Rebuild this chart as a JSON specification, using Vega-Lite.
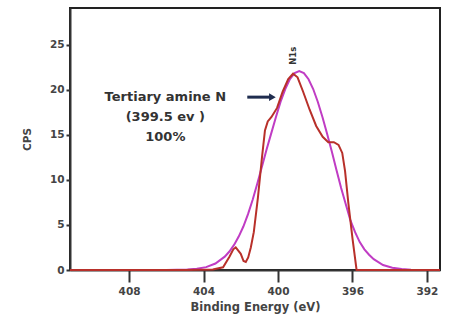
{
  "$schema": "https://vega.github.io/schema/vega-lite/v6.json",
  "width": 370,
  "height": 262,
  "autosize": {"type": "none"},
  "padding": {"left": 70, "top": 8, "right": 9, "bottom": 59},
  "background": "white",
  "config": {
    "view": {"stroke": "#222222", "strokeWidth": 2},
    "font": "DejaVu Sans",
    "axis": {"grid": false, "domainColor": "#333333", "domainWidth": 2, "tickColor": "#333333", "tickWidth": 2, "labelColor": "#444444", "labelFont": "DejaVu Sans", "labelFontWeight": "bold", "titleFont": "DejaVu Sans", "titleColor": "#444444", "titleFontWeight": "bold"}
  },
  "datasets": {
    "fit": [
      {"be": 411.17, "cps": 0}, {"be": 406.0, "cps": 0}, {"be": 404.86, "cps": 0.05}, {"be": 404.36, "cps": 0.13},
      {"be": 403.86, "cps": 0.32}, {"be": 403.36, "cps": 0.72}, {"be": 402.86, "cps": 1.48}, {"be": 402.61, "cps": 2.05},
      {"be": 402.36, "cps": 2.79}, {"be": 402.11, "cps": 3.71}, {"be": 401.86, "cps": 4.83}, {"be": 401.61, "cps": 6.2},
      {"be": 401.36, "cps": 7.8}, {"be": 401.11, "cps": 9.6}, {"be": 400.86, "cps": 11.5}, {"be": 400.61, "cps": 13.4},
      {"be": 400.36, "cps": 15.2}, {"be": 400.11, "cps": 17.0}, {"be": 399.86, "cps": 18.7}, {"be": 399.61, "cps": 20.1},
      {"be": 399.36, "cps": 21.2}, {"be": 399.11, "cps": 21.87}, {"be": 398.86, "cps": 22.1}, {"be": 398.61, "cps": 21.87},
      {"be": 398.36, "cps": 21.19}, {"be": 398.11, "cps": 20.1}, {"be": 397.86, "cps": 18.66}, {"be": 397.61, "cps": 16.97},
      {"be": 397.36, "cps": 15.11}, {"be": 397.11, "cps": 13.17}, {"be": 396.86, "cps": 11.1}, {"be": 396.61, "cps": 9.1},
      {"be": 396.36, "cps": 7.3}, {"be": 396.11, "cps": 5.5}, {"be": 395.86, "cps": 4.2}, {"be": 395.61, "cps": 3.1},
      {"be": 395.36, "cps": 2.3}, {"be": 395.11, "cps": 1.7}, {"be": 394.86, "cps": 1.2}, {"be": 394.36, "cps": 0.55},
      {"be": 393.86, "cps": 0.25}, {"be": 393.36, "cps": 0.1}, {"be": 392.86, "cps": 0.03}, {"be": 392.0, "cps": 0}, {"be": 391.3, "cps": 0}
    ],
    "raw": [
      {"be": 411.17, "cps": 0}, {"be": 405.0, "cps": 0}, {"be": 403.5, "cps": 0.05}, {"be": 402.95, "cps": 0.3},
      {"be": 402.6, "cps": 1.5}, {"be": 402.4, "cps": 2.3}, {"be": 402.27, "cps": 2.5}, {"be": 402.0, "cps": 1.8},
      {"be": 401.85, "cps": 1.0}, {"be": 401.73, "cps": 0.9}, {"be": 401.6, "cps": 1.4}, {"be": 401.46, "cps": 2.5},
      {"be": 401.3, "cps": 4.2}, {"be": 401.08, "cps": 8.0}, {"be": 400.86, "cps": 12.5}, {"be": 400.7, "cps": 15.5},
      {"be": 400.55, "cps": 16.5}, {"be": 400.35, "cps": 17.0}, {"be": 400.05, "cps": 18.0}, {"be": 399.75, "cps": 19.8},
      {"be": 399.45, "cps": 21.2}, {"be": 399.19, "cps": 21.8}, {"be": 398.95, "cps": 21.4}, {"be": 398.65, "cps": 19.8},
      {"be": 398.3, "cps": 17.8}, {"be": 397.95, "cps": 16.0}, {"be": 397.6, "cps": 14.8}, {"be": 397.3, "cps": 14.2},
      {"be": 397.0, "cps": 14.2}, {"be": 396.75, "cps": 13.9}, {"be": 396.55, "cps": 13.0}, {"be": 396.4, "cps": 11.0},
      {"be": 396.22, "cps": 7.4}, {"be": 396.0, "cps": 3.5}, {"be": 395.78, "cps": 0}, {"be": 391.3, "cps": 0}
    ],
    "notes": [
      {"be": 406.05, "cps": 19.2, "t": "Tertiary amine N"},
      {"be": 406.05, "cps": 17.0, "t": "(399.5 ev )"},
      {"be": 406.05, "cps": 14.8, "t": "100%"}
    ],
    "arrow": [{"be": 401.65, "be2": 400.4, "cps": 19.2}],
    "head": [{"be": 400.3, "cps": 19.2}],
    "peak": [{"be": 399.19, "cps": 23.8, "t": "N1s"}]
  },
  "encoding": {
    "x": {"field": "be", "type": "quantitative", "scale": {"domain": [391.3, 411.17], "reverse": true, "nice": false, "zero": false},
      "axis": {"values": [408, 404, 400, 396, 392], "title": "Binding Energy (eV)", "labelFontSize": 10.5, "titleFontSize": 11.5, "tickSize": 12, "labelPadding": 4, "titlePadding": 5}},
    "y": {"field": "cps", "type": "quantitative", "scale": {"domain": [0, 29.1], "nice": false},
      "axis": {"values": [0, 5, 10, 15, 20, 25], "title": "CPS", "labelFontSize": 10.5, "titleFontSize": 10.5, "tickSize": 4, "labelPadding": 2, "titlePadding": 17}}
  },
  "layer": [
    {"data": {"name": "fit"}, "mark": {"type": "line", "color": "#c03cc4", "strokeWidth": 2}},
    {"data": {"name": "raw"}, "mark": {"type": "line", "color": "#b8302a", "strokeWidth": 2}},
    {"data": {"name": "notes"}, "mark": {"type": "text", "font": "DejaVu Sans", "fontWeight": "bold", "fontSize": 13, "color": "#333333"}, "encoding": {"text": {"field": "t"}}},
    {"data": {"name": "arrow"}, "mark": {"type": "rule", "color": "#1f2d4f", "strokeWidth": 3}, "encoding": {"x2": {"field": "be2"}}},
    {"data": {"name": "head"}, "mark": {"type": "point", "shape": "triangle-right", "filled": true, "color": "#1f2d4f", "size": 60, "opacity": 1}},
    {"data": {"name": "peak"}, "mark": {"type": "text", "angle": 270, "font": "DejaVu Sans", "fontWeight": "bold", "fontSize": 8.5, "color": "#333333"}, "encoding": {"text": {"field": "t"}}}
  ]
}
